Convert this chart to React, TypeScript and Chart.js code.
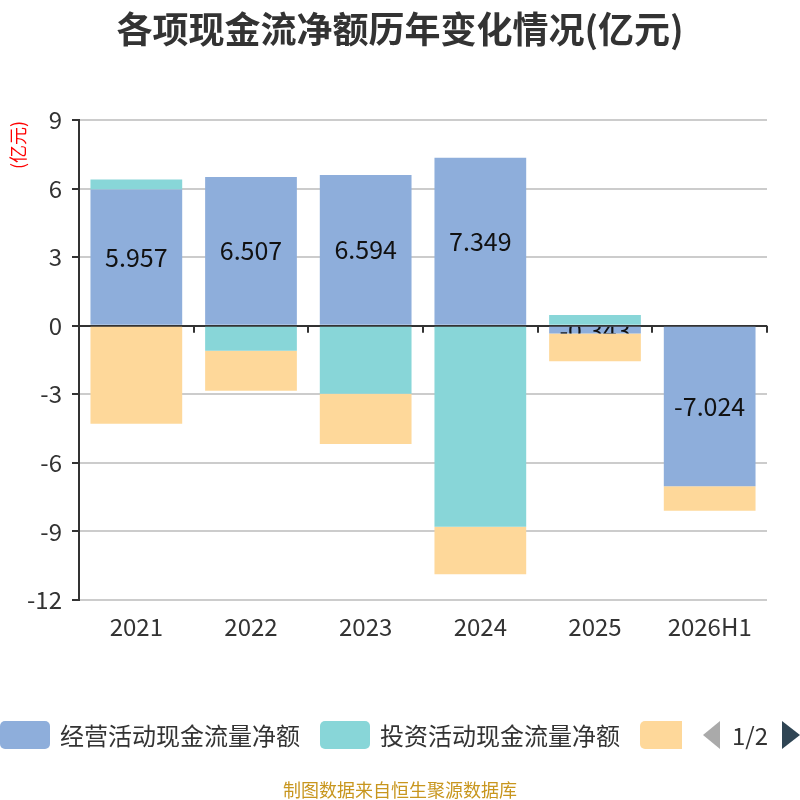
import { useEffect, useRef } from "react"
import { Chart, registerables } from "chart.js"

Chart.register(...registerables)

const years = ["2021", "2022", "2023", "2024", "2025", "2026H1"]
const operating = [5.957, 6.507, 6.594, 7.349, -0.343, -7.024]
const investing = [0.44, -1.1, -2.98, -8.8, 0.47, 0.04]
const financing = [-4.29, -1.74, -2.2, -2.07, -1.21, -1.07]
const yTicks = [-12, -9, -6, -3, 0, 3, 6, 9]

const seriesNames = ["经营活动现金流量净额", "投资活动现金流量净额", "筹资活动现金流量净额"]
const colors = ["#8eaedb", "#88d6d8", "#fed89a"]

const FONT = "'Noto Sans CJK SC', 'Noto Sans', sans-serif"

const extras = {
  id: "extras",
  beforeDatasetsDraw(chart: any) {
    const { ctx } = chart
    const x = chart.scales.x
    const y = chart.scales.y
    const zero = y.getPixelForValue(0)
    const step = (x.right - x.left) / years.length
    ctx.save()
    ctx.strokeStyle = "#333"
    ctx.lineWidth = 2
    for (let i = 0; i <= years.length; i++) {
      const px = Math.round(x.left + step * i)
      ctx.beginPath()
      ctx.moveTo(px, zero)
      ctx.lineTo(px, zero + 7)
      ctx.stroke()
    }
    ctx.restore()
  },
  afterDatasetDraw(chart: any, args: any) {
    if (args.index !== 0) return
    const { ctx } = chart
    const meta = chart.getDatasetMeta(0)
    ctx.save()
    ctx.font = `25px ${FONT}`
    ctx.fillStyle = "#111"
    ctx.textAlign = "center"
    ctx.textBaseline = "middle"
    meta.data.forEach((bar: any, i: number) => {
      const { x, y, base, width } = bar.getProps(["x", "y", "base", "width"], true)
      const top = Math.min(y, base)
      const h = Math.abs(base - y)
      ctx.save()
      ctx.beginPath()
      ctx.rect(x - width / 2, top, width, h)
      ctx.clip()
      ctx.fillText(operating[i].toFixed(3), x, top + h / 2)
      ctx.restore()
    })
    ctx.restore()
  },
  afterDraw(chart: any) {
    const { ctx } = chart
    ctx.save()
    ctx.translate(18, 145)
    ctx.rotate(-Math.PI / 2)
    ctx.font = `18px ${FONT}`
    ctx.fillStyle = "#ff0000"
    ctx.textAlign = "center"
    ctx.textBaseline = "middle"
    ctx.fillText("(亿元)", 0, 0)
    ctx.restore()
  },
}

function LegendItem({ color, label, left }: { color: string; label: string; left: number }) {
  return (
    <div style={{ position: "absolute", left, top: 0, display: "flex", alignItems: "center", height: 30 }}>
      <div style={{ width: 50, height: 28, borderRadius: 5, background: color }} />
      <span style={{ marginLeft: 10, fontSize: 24, color: "#333", whiteSpace: "nowrap", lineHeight: "30px" }}>
        {label}
      </span>
    </div>
  )
}

export default function App() {
  const chartRef = useRef<HTMLCanvasElement>(null)
  const chartInstance = useRef<Chart | null>(null)

  useEffect(() => {
    if (!chartRef.current) return
    const ctx = chartRef.current.getContext("2d")
    if (!ctx) return
    if (chartInstance.current) chartInstance.current.destroy()

    chartInstance.current = new Chart(ctx, {
      type: "bar",
      data: {
        labels: years,
        datasets: [
          { label: seriesNames[0], data: operating, backgroundColor: colors[0] },
          { label: seriesNames[1], data: investing, backgroundColor: colors[1] },
          { label: seriesNames[2], data: financing, backgroundColor: colors[2] },
        ],
      },
      options: {
        responsive: false,
        animation: false,
        layout: { padding: { top: 120, left: 0, right: 33, bottom: 0 } },
        datasets: { bar: { barPercentage: 0.8, categoryPercentage: 1, borderWidth: 0 } },
        plugins: {
          legend: { display: false },
          title: { display: false },
          tooltip: { enabled: false },
        },
        scales: {
          x: {
            stacked: true,
            grid: { display: false, drawTicks: false },
            border: { display: false },
            ticks: { color: "#333", padding: 12, font: { size: 24, family: FONT } },
            afterFit: (s: any) => {
              s.height = 200
            },
          },
          y: {
            stacked: true,
            min: -12,
            max: 9,
            afterBuildTicks: (s: any) => {
              s.ticks = yTicks.map((v) => ({ value: v }))
            },
            grid: {
              color: (c: any) => (c.tick && c.tick.value === 0 ? "#333" : "#ccc"),
              lineWidth: 2,
              tickColor: "#333",
              tickLength: 7,
            },
            border: { display: true, color: "#333", width: 2 },
            ticks: { color: "#333", padding: 10, font: { size: 24, family: FONT } },
            afterFit: (s: any) => {
              s.width = 79
            },
          },
        },
      },
      plugins: [extras],
    })

    return () => {
      if (chartInstance.current) {
        chartInstance.current.destroy()
        chartInstance.current = null
      }
    }
  }, [])

  return (
    <div
      style={{
        position: "fixed",
        left: 0,
        top: 0,
        width: 800,
        height: 800,
        background: "#fff",
        fontFamily: FONT,
        overflow: "hidden",
      }}
    >
      <canvas ref={chartRef} width={800} height={800} style={{ position: "absolute", left: 0, top: 0 }} />
      <div
        style={{
          position: "absolute",
          top: 4,
          left: 0,
          width: 800,
          textAlign: "center",
          fontSize: 36,
          fontWeight: "bold",
          color: "#333",
          lineHeight: "46px",
        }}
      >
        各项现金流净额历年变化情况(亿元)
      </div>
      <div style={{ position: "absolute", top: 720, left: 0, width: 800, height: 30 }}>
        <div style={{ position: "absolute", left: 0, top: 0, width: 682, height: 30, overflow: "hidden" }}>
          <LegendItem color={colors[0]} label={seriesNames[0]} left={0} />
          <LegendItem color={colors[1]} label={seriesNames[1]} left={320} />
          <LegendItem color={colors[2]} label={seriesNames[2]} left={640} />
        </div>
        <div
          style={{
            position: "absolute",
            left: 703,
            top: 1,
            width: 0,
            height: 0,
            borderTop: "14px solid transparent",
            borderBottom: "14px solid transparent",
            borderRight: "17px solid #aaa",
          }}
        />
        <span style={{ position: "absolute", left: 732, top: 0, fontSize: 24, color: "#333", lineHeight: "30px" }}>
          1/2
        </span>
        <div
          style={{
            position: "absolute",
            left: 782,
            top: 1,
            width: 0,
            height: 0,
            borderTop: "14px solid transparent",
            borderBottom: "14px solid transparent",
            borderLeft: "18px solid #2f4554",
          }}
        />
      </div>
      <div
        style={{
          position: "absolute",
          top: 777,
          left: 0,
          width: 800,
          textAlign: "center",
          fontSize: 18,
          color: "#c8961e",
          lineHeight: "24px",
        }}
      >
        制图数据来自恒生聚源数据库
      </div>
    </div>
  )
}
